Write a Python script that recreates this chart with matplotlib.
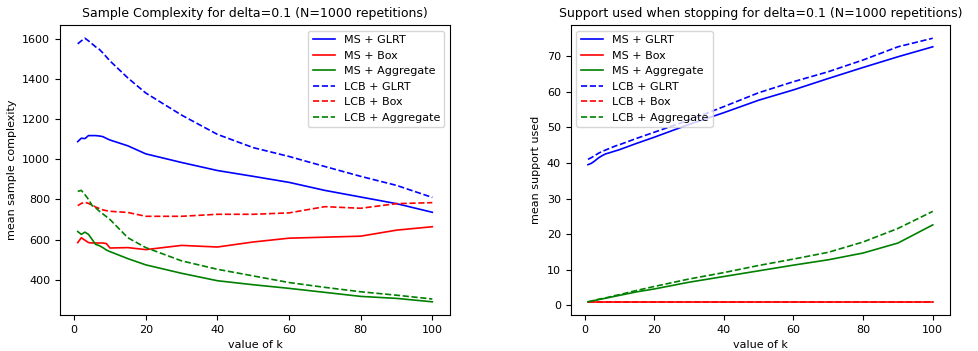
import numpy as np
import matplotlib
matplotlib.use("Agg")
import matplotlib.pyplot as plt

# values of k
k = [1, 2, 3, 4, 5, 6, 7, 8, 9, 10, 15, 20, 30, 40, 50, 60, 70, 80, 90, 100]

# sample complexity
sc_ms_glrt = [1088, 1105, 1103, 1118, 1118, 1118, 1116, 1113, 1104, 1096, 1067, 1027,
              984, 944, 915, 885, 845, 812, 779, 736]
sc_ms_box = [585, 609, 597, 585, 583, 583, 583, 583, 580, 558, 560, 550,
             571, 563, 588, 607, 612, 617, 647, 664]
sc_ms_agg = [640, 626, 637, 626, 601, 576, 570, 560, 548, 540, 505, 474,
             432, 395, 375, 357, 337, 317, 307, 290]
sc_lcb_glrt = [1575, 1590, 1603, 1590, 1575, 1560, 1548, 1530, 1510, 1490, 1405, 1330,
               1220, 1124, 1058, 1014, 964, 915, 870, 810]
sc_lcb_box = [769, 780, 786, 780, 772, 762, 755, 748, 744, 741, 735, 716,
              716, 726, 726, 733, 764, 756, 779, 784]
sc_lcb_agg = [840, 845, 824, 800, 770, 758, 742, 728, 714, 700, 609, 560,
              494, 452, 419, 386, 362, 340, 323, 304]

# support used when stopping
su_ms_glrt = [39.5, 39.9, 40.6, 41.4, 42.0, 42.5, 42.8, 43.1, 43.4, 43.7, 45.5, 47.2,
              50.8, 54.1, 57.6, 60.5, 63.7, 66.8, 69.8, 72.6]
su_ms_box = [1] * len(k)
su_ms_agg = [1.0, 1.2, 1.4, 1.6, 1.8, 2.0, 2.2, 2.4, 2.6, 2.8, 3.8, 4.6,
             6.5, 8.1, 9.7, 11.3, 12.8, 14.7, 17.5, 22.6]
su_lcb_glrt = [41.0, 41.5, 42.1, 42.7, 43.2, 43.6, 44.0, 44.4, 44.8, 45.1, 46.9, 48.6,
               52.0, 55.8, 59.7, 62.8, 65.6, 68.9, 72.6, 75.0]
su_lcb_box = [1] * len(k)
su_lcb_agg = [1.0, 1.2, 1.5, 1.7, 1.9, 2.1, 2.3, 2.6, 2.8, 3.0, 4.2, 5.3,
              7.4, 9.2, 11.2, 13.0, 14.9, 17.8, 21.6, 26.4]

labels = ["MS + GLRT", "MS + Box", "MS + Aggregate",
          "LCB + GLRT", "LCB + Box", "LCB + Aggregate"]
colors = ["blue", "red", "green", "blue", "red", "green"]
styles = ["-", "-", "-", "--", "--", "--"]

fig = plt.figure(figsize=(9.79, 3.51), dpi=100)
ax1 = fig.add_axes([0.0613, 0.1026, 0.3984, 0.826])
ax2 = fig.add_axes([0.583, 0.1026, 0.3874, 0.826])

left_series = [sc_ms_glrt, sc_ms_box, sc_ms_agg, sc_lcb_glrt, sc_lcb_box, sc_lcb_agg]
right_series = [su_ms_glrt, su_ms_box, su_ms_agg, su_lcb_glrt, su_lcb_box, su_lcb_agg]

for ys, lab, c, ls in zip(left_series, labels, colors, styles):
    ax1.plot(k, ys, ls, color=c, label=lab, linewidth=1.2)
for ys, lab, c, ls in zip(right_series, labels, colors, styles):
    ax2.plot(k, ys, ls, color=c, label=lab, linewidth=1.2)

ax1.set_title("Sample Complexity for delta=0.1 (N=1000 repetitions)", fontsize=9)
ax1.set_xlabel("value of k", fontsize=8)
ax1.set_ylabel("mean sample complexity", fontsize=8)
ax1.set_yticks([400, 600, 800, 1000, 1200, 1400, 1600])
ax1.legend(loc="upper right", fontsize=8)

ax2.set_title("Support used when stopping for delta=0.1 (N=1000 repetitions)", fontsize=9)
ax2.set_xlabel("value of k", fontsize=8)
ax2.set_ylabel("mean support used", fontsize=8)
ax2.legend(loc="upper left", fontsize=8)

for ax in (ax1, ax2):
    ax.tick_params(labelsize=8)
    ax.set_xticks([0, 20, 40, 60, 80, 100])

fig.savefig("out.png", dpi=100)
